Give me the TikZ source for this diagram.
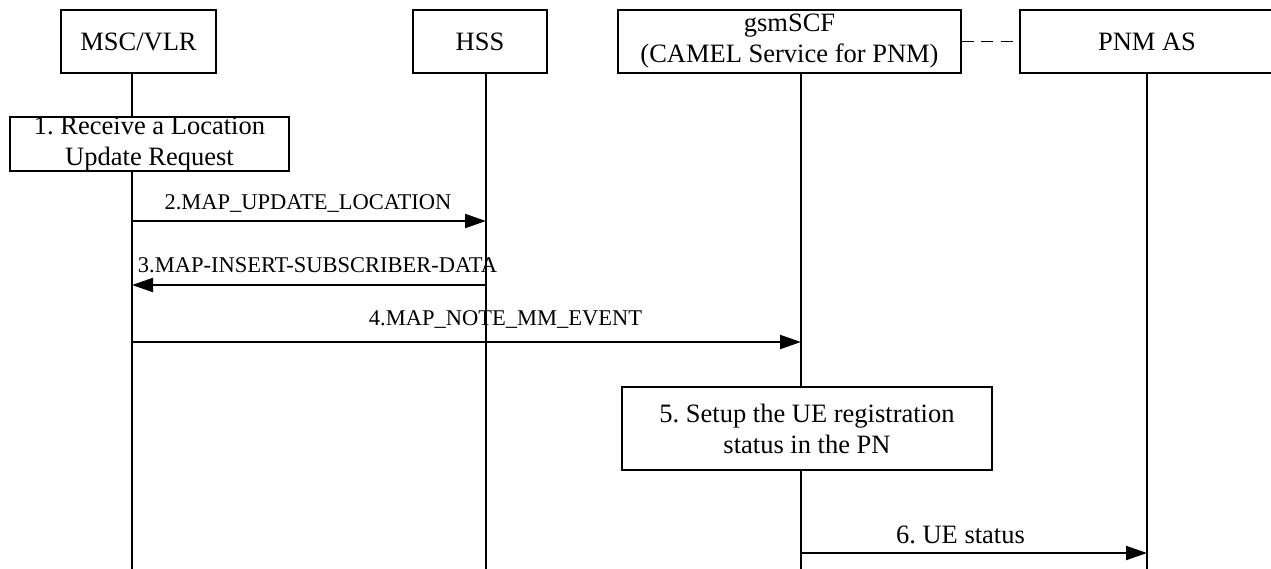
\documentclass[tikz,border=0pt]{standalone}
\usepackage{fontspec}
\setmainfont{Liberation Serif}
\usetikzlibrary{arrows.meta}
\frenchspacing
\begin{document}
\begin{tikzpicture}[x=1pt,y=-1pt,
  box/.style={draw, line width=1.4pt, fill=white, inner sep=0pt, align=center,
              font=\fontsize{26.5}{31}\selectfont},
  lbl/.style={font=\fontsize{22.5}{26}\selectfont, inner sep=0pt, anchor=base},
  biglbl/.style={font=\fontsize{26.5}{31}\selectfont, inner sep=0pt, anchor=base},
  msg/.style={line width=2pt, -{Triangle[length=21pt,width=14pt]}},
  life/.style={line width=1.4pt},
  assoc/.style={line width=1.6pt, dash pattern=on 12pt off 7.5pt}]
\useasboundingbox (0,0) rectangle (1271,568);

% entity boxes
\node[box, minimum width=155pt, minimum height=63pt] (msc) at (138.5,41.5) {MSC/VLR};
\node[box, minimum width=134pt, minimum height=63pt] (hss) at (480,41.5) {HSS};
\node[box, minimum width=343pt, minimum height=63pt] (scf) at (789.5,41.5) {gsmSCF\\(CAMEL Service for PNM)};
\node[box, minimum width=254pt, minimum height=63pt] (pnm) at (1147,41.5) {PNM AS};

% association between gsmSCF and PNM AS
\draw[assoc] (scf.east) -- (pnm.west);

% lifeline ends
\coordinate (mscB) at (132,570);
\coordinate (hssB) at (486,570);
\coordinate (scfB) at (801,570);
\coordinate (pnmB) at (1147,570);

\draw[life] (msc.south -| mscB) -- (mscB);
\draw[life] (hss.south -| hssB) -- (hssB);
\draw[life] (scf.south -| scfB) -- (scfB);
\draw[life] (pnm.south -| pnmB) -- (pnmB);

% action boxes
\node[box, minimum width=279pt, minimum height=52pt] (recv) at (149.5,144) {1. Receive a Location\\Update Request};
\node[box, minimum width=370pt, minimum height=83pt] (setup) at (807,428.5) {5. Setup the UE registration\\status in the PN};

% message end points on lifelines
\coordinate (m2a) at (132,221);  \coordinate (m2b) at (486,221);
\coordinate (m3a) at (486,285);  \coordinate (m3b) at (132,285);
\coordinate (m4a) at (132,342);  \coordinate (m4b) at (801,342);
\coordinate (m6a) at (801,553);  \coordinate (m6b) at (1147,553);

\draw[msg] (m2a) -- (m2b);
\draw[msg] (m3a) -- (m3b);
\draw[msg] (m4a) -- (m4b);
\draw[msg] (m6a) -- (m6b);

% message labels
\node[lbl] (l2) at (308,209) {2.MAP\_UPDATE\_LOCATION};
\node[lbl] (l3) at (317.5,272) {3.MAP-INSERT-SUBSCRIBER-DATA};
\node[lbl] (l4) at (505.5,325) {4.MAP\_NOTE\_MM\_EVENT};
\node[biglbl] (l6) at (960.5,543) {6. UE status};
\end{tikzpicture}
\end{document}
